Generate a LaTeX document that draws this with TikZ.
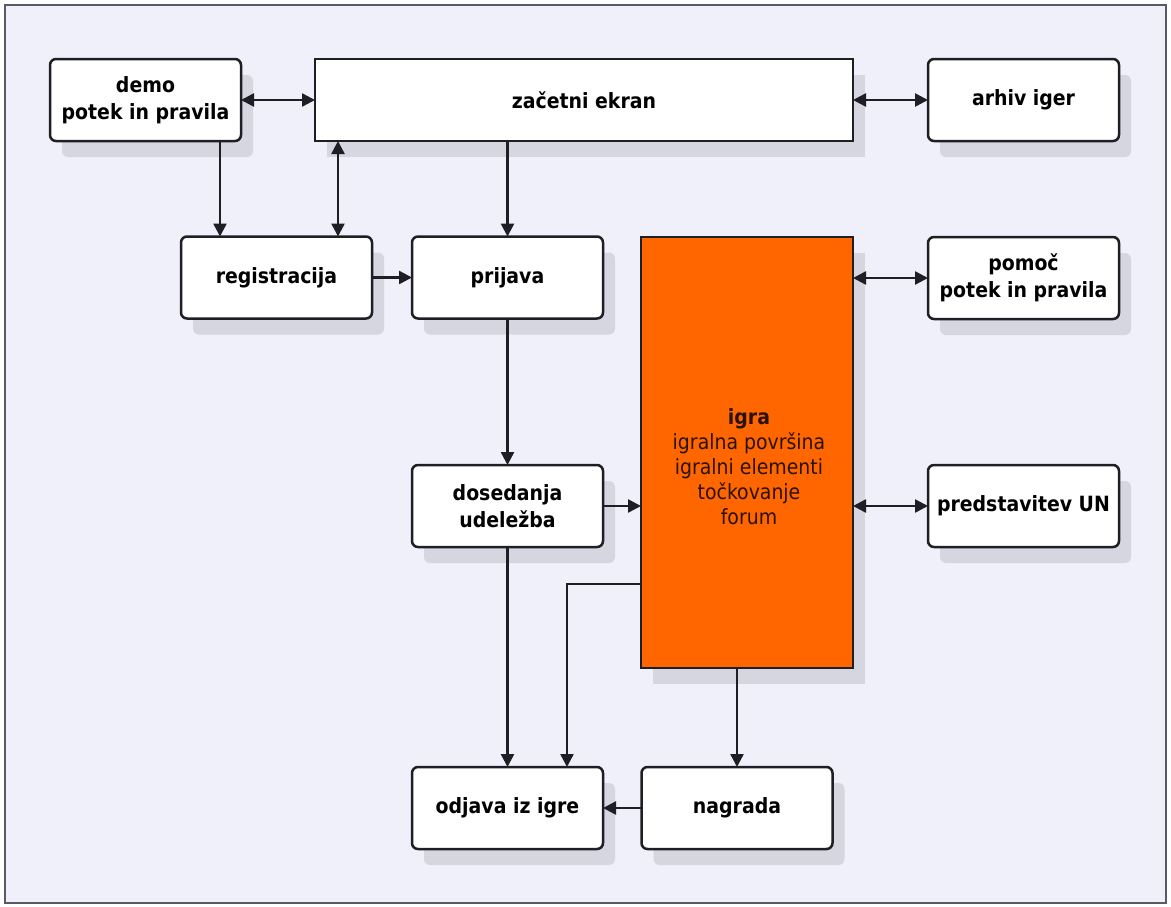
\documentclass[tikz,border=0pt]{standalone}
\usepackage{fontspec}
\setmainfont{DejaVu Sans Condensed}
\usetikzlibrary{arrows.meta,shadows}
\definecolor{bgcol}{HTML}{F0F0FA}
\definecolor{framecol}{HTML}{5A5A66}
\definecolor{shadowcol}{HTML}{D6D6E0}
\definecolor{linecol}{HTML}{1E1E24}
\definecolor{orangecol}{HTML}{FF6600}
\definecolor{igratext}{HTML}{2A1200}
\tikzset{
  base/.style={draw=linecol, line width=2.5pt, inner sep=0pt, outer sep=0pt,
    align=center, font=\fontsize{21}{27}\selectfont\bfseries,
    drop shadow={shadow xshift=12pt, shadow yshift=-16pt, fill=shadowcol, opacity=1}},
  rbox/.style={base, fill=white, rounded corners=6pt, minimum width=191pt, minimum height=82pt},
  sbox/.style={base, fill=white, minimum height=82pt},
  obox/.style={base, fill=orangecol, minimum width=212pt, minimum height=431pt},
  arr/.style={draw=linecol, line width=2.5pt, -{Triangle[length=13pt,width=13pt]}},
  darr/.style={draw=linecol, line width=2.5pt, {Triangle[length=13pt,width=13pt]}-{Triangle[length=13pt,width=13pt]}},
}
\begin{document}
\begin{tikzpicture}[x=1pt,y=-1pt]
\useasboundingbox (0,0) rectangle (1171,906);
\fill[white] (0,0) rectangle (1171,906);
\draw[framecol, line width=1.5pt, fill=bgcol] (5,5) rectangle (1166,903);

\node[rbox] (demo) at (145.5,100) {demo\\potek in pravila};
\node[sbox, minimum width=538pt] (zac) at (584,100) {začetni ekran};
\node[rbox] (arhiv) at (1023.5,100) {arhiv iger};
\node[rbox] (reg) at (276.5,277.5) {registracija};
\node[rbox] (prij) at (507.5,277.5) {prijava};
\node[obox] (igra) at (747,452.5) {};
\node[align=center, text=igratext, font=\fontsize{21}{25}\selectfont, inner sep=0pt] (igratxt) at (749,467)
  {\textbf{igra}\\igralna površina\\igralni elementi\\točkovanje\\forum};
\node[rbox] (pomoc) at (1023.5,278) {pomoč\\potek in pravila};
\node[rbox] (dos) at (507.5,506) {dosedanja\\udeležba};
\node[rbox] (pred) at (1023.5,506) {predstavitev UN};
\node[rbox] (odj) at (507.5,808) {odjava iz igre};
\node[rbox] (nag) at (737,808) {nagrada};

\draw[darr] (demo.east) -- (zac.west);
\draw[darr] (zac.east) -- (arhiv.west);
\draw[arr] (demo.south -| 220,0) -- (reg.north -| 220,0);
\draw[darr] (reg.north -| 338,0) -- (zac.south -| 338,0);
\draw[arr] (zac.south -| prij.north) -- (prij.north);
\draw[arr] (reg.east) -- (prij.west);
\draw[arr] (prij.south) -- (dos.north);
\draw[arr] (dos.east) -- (dos.east -| igra.west);
\draw[darr] (igra.east |- pomoc.west) -- (pomoc.west);
\draw[darr] (igra.east |- pred.west) -- (pred.west);
\draw[arr] (dos.south) -- (odj.north);
\draw[arr] (igra.west |- 0,584) -| (odj.north -| 567,0);
\draw[arr] (igra.south -| nag.north) -- (nag.north);
\draw[arr] (nag.west) -- (odj.east);
\end{tikzpicture}
\end{document}
